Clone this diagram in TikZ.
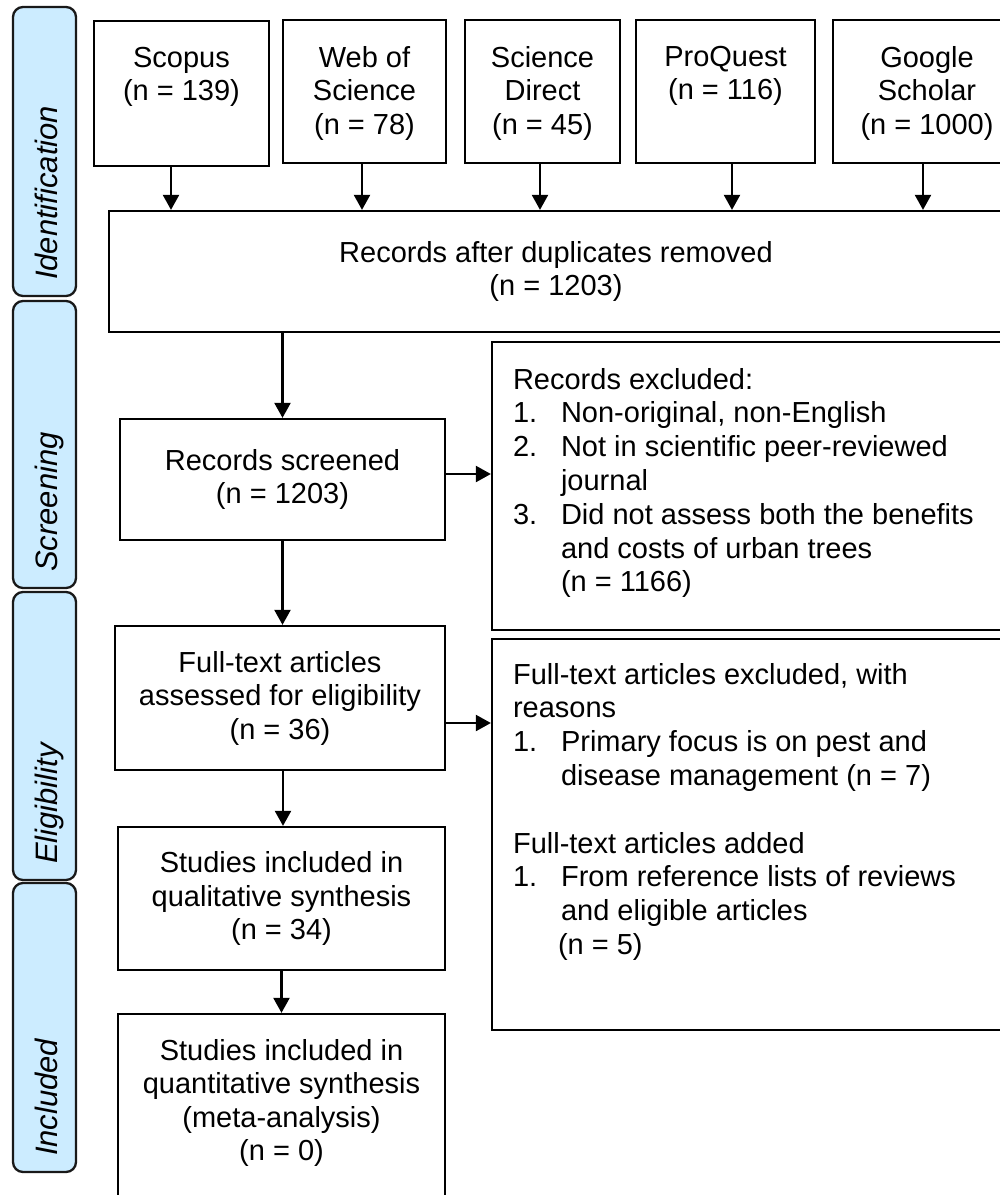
\documentclass[tikz,border=0pt]{standalone}
\usepackage{fontspec}
\setmainfont{Liberation Sans}
\usetikzlibrary{arrows.meta}
\definecolor{sidefill}{HTML}{CCECFF}
\begin{document}
\begin{tikzpicture}[x=1pt,y=-1pt,
  box/.style={draw=black, line width=2.3pt, rectangle, inner sep=0pt},
  side/.style={draw=black!90, line width=2.3pt, fill=sidefill, rounded corners=10pt, inner sep=0pt, minimum width=63pt},
  txt/.style={inner sep=0pt, align=center, font=\fontsize{29}{33.5}\selectfont},
  ltxt/.style={inner sep=0pt, align=left, font=\fontsize{29}{33.8}\selectfont},
  stxt/.style={inner sep=0pt, rotate=90, anchor=base west, font=\fontsize{31}{36}\selectfont\itshape},
  arr/.style={line width=2.3pt, -{Triangle[width=16pt,length=15pt]}}]
\clip (0,0) rectangle (1000,1195);
\fill[white] (0,0) rectangle (1000,1195);
% side phase boxes
\node[side, minimum height=289pt] (idbox) at (44.5,151.5) {};
\node[side, minimum height=287pt] (scbox) at (44.5,444.5) {};
\node[side, minimum height=288pt] (elbox) at (44.5,736) {};
\node[side, minimum height=289pt] (inbox) at (44.5,1027.5) {};
\node[stxt] (idlab) at ([xshift=12.5pt,yshift=17pt]idbox.south) {Identification};
\node[stxt] (sclab) at ([xshift=12.5pt,yshift=17pt]scbox.south) {Screening};
\node[stxt] (ellab) at ([xshift=12.5pt,yshift=17pt]elbox.south) {Eligibility};
\node[stxt] (inlab) at ([xshift=12.5pt,yshift=17pt]inbox.south) {Included};
% source boxes
\node[box, minimum width=175pt, minimum height=145pt] (scopus) at (181.5,93.5) {};
\node[box, minimum width=163pt, minimum height=143pt] (wos) at (364.5,91.5) {};
\node[box, minimum width=155pt, minimum height=143pt] (sd) at (542.5,91.5) {};
\node[box, minimum width=179pt, minimum height=143pt] (pq) at (725.5,91.5) {};
\node[box, minimum width=188pt, minimum height=143pt] (gs) at (927,91.5) {};
\node[txt, anchor=north] (scopusT) at ([yshift=-27pt]scopus.north) {Scopus\\(n = 139)};
\node[txt, anchor=north] (wosT) at ([yshift=-27pt]wos.north) {Web of\\Science\\(n = 78)};
\node[txt, anchor=north] (sdT) at ([yshift=-27pt]sd.north) {Science\\Direct\\(n = 45)};
\node[txt, anchor=north] (pqT) at ([yshift=-27pt]pq.north) {ProQuest\\(n = 116)};
\node[txt, anchor=north] (gsT) at ([yshift=-27pt]gs.north) {Google\\Scholar\\(n = 1000)};
% main flow
\node[box, minimum width=894pt, minimum height=121pt, txt] (dup) at (556,271.5) {Records after duplicates removed\\(n = 1203)};
\node[box, minimum width=325pt, minimum height=121pt, txt] (screened) at (282.5,479.5) {Records screened\\(n = 1203)};
\node[box, minimum width=330pt, minimum height=144pt, txt] (full) at (280,698) {Full-text articles\\assessed for eligibility\\(n = 36)};
\node[box, minimum width=327pt, minimum height=143pt, txt] (qual) at (281.5,898.5) {Studies included in\\qualitative synthesis\\(n = 34)};
\node[box, minimum width=327pt, minimum height=196pt] (quant) at (281.5,1112) {};
\node[txt, anchor=north] (quantT) at ([yshift=-26pt]quant.north) {Studies included in\\quantitative synthesis\\(meta-analysis)\\(n = 0)};
% exclusion boxes
\node[box, minimum width=518pt, minimum height=288pt] (excl1) at (751,486) {};
\node[box, minimum width=518pt, minimum height=391pt] (excl2) at (751,834.5) {};
\node[ltxt, anchor=north west] (excl1T) at ([xshift=22pt,yshift=-27pt]excl1.north west) {Records excluded:\\
\makebox[48pt][l]{1.}Non-original, non-English\\
\makebox[48pt][l]{2.}Not in scientific peer-reviewed\\
\hspace*{48pt}journal\\
\makebox[48pt][l]{3.}Did not assess both the benefits\\
\hspace*{48pt}and costs of urban trees\\
\hspace*{48pt}(n = 1166)};
\node[ltxt, anchor=north west] (excl2T) at ([xshift=22pt,yshift=-25pt]excl2.north west) {Full-text articles excluded, with\\
reasons\\
\makebox[48pt][l]{1.}Primary focus is on pest and\\
\hspace*{48pt}disease management (n = 7)\\[33.8pt]
Full-text articles added\\
\makebox[48pt][l]{1.}From reference lists of reviews\\
\hspace*{48pt}and eligible articles\\
\hspace*{45pt}(n = 5)};
% connectors
\coordinate (a1) at ([xshift=-10.5pt]scopus.south);
\coordinate (a2) at ([xshift=-2.5pt]wos.south);
\coordinate (a3) at ([xshift=-2.5pt]sd.south);
\coordinate (a4) at ([xshift=6.5pt]pq.south);
\coordinate (a5) at ([xshift=-4pt]gs.south);
\draw[arr] (a1) -- (a1 |- dup.north);
\draw[arr] (a2) -- (a2 |- dup.north);
\draw[arr] (a3) -- (a3 |- dup.north);
\draw[arr] (a4) -- (a4 |- dup.north);
\draw[arr] (a5) -- (a5 |- dup.north);
\draw[arr] (dup.south -| screened.north) -- (screened.north);
\draw[arr] (screened.south) -- (screened.south |- full.north);
\draw[arr] ([xshift=3pt]full.south) -- ([xshift=3pt]full.south |- qual.north);
\draw[arr] (qual.south) -- (qual.south |- quant.north);
\coordinate (b1) at ([yshift=5.5pt]screened.east);
\coordinate (b2) at ([yshift=-25pt]full.east);
\draw[arr] (b1) -- (b1 -| excl1.west);
\draw[arr] (b2) -- (b2 -| excl2.west);
\end{tikzpicture}
\end{document}
